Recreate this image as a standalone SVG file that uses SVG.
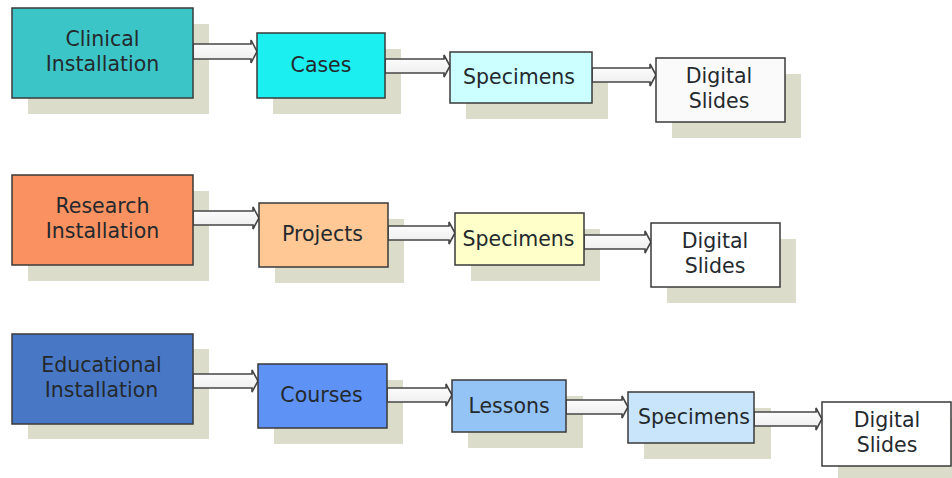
<svg xmlns="http://www.w3.org/2000/svg" width="952" height="478" viewBox="0 0 952 478">
  <defs>
    <linearGradient id="arrowFill" x1="0" y1="0" x2="0" y2="1">
      <stop offset="0" stop-color="#ffffff"/>
      <stop offset="1" stop-color="#ececec"/>
    </linearGradient>
  </defs>
  <style>
    .shadow { fill: #dcdccb; }
    .box { stroke: #3a3a3a; stroke-width: 1.5; }
    .label { font-family: "DejaVu Sans", "Liberation Sans", sans-serif; font-size: 20.5px; text-anchor: middle; fill: #24292e; }
    .arrow { fill: url(#arrowFill); stroke: #454545; stroke-width: 1.6; stroke-linejoin: miter; }
  </style>
  <rect width="952" height="478" fill="#ffffff"/>

  <!-- Shadows -->
  <g id="shadows">
    <rect class="shadow" x="28" y="24" width="181" height="90"/>
    <rect class="shadow" x="273" y="49" width="128" height="65"/>
    <rect class="shadow" x="466" y="68" width="142" height="51"/>
    <rect class="shadow" x="672" y="74" width="129" height="64"/>

    <rect class="shadow" x="28" y="191" width="181" height="90"/>
    <rect class="shadow" x="275" y="219" width="129" height="64"/>
    <rect class="shadow" x="471" y="229" width="129" height="52"/>
    <rect class="shadow" x="667" y="239" width="129" height="64"/>

    <rect class="shadow" x="28" y="349" width="181" height="90"/>
    <rect class="shadow" x="274" y="380" width="129" height="64"/>
    <rect class="shadow" x="468" y="396" width="115" height="52"/>
    <rect class="shadow" x="644" y="408" width="127" height="51"/>
    <rect class="shadow" x="838" y="418" width="129" height="64"/>
  </g>

  <!-- Connectors: hollow block arrows -->
  <g id="connectors">
    <path class="arrow" d="M193,44 H251 V40 L257,51.5 L251,63 V59 H193 Z"/>
    <path class="arrow" d="M385,59 H444 V55 L450,66 L444,77 V73 H385 Z"/>
    <path class="arrow" d="M592,68 H650 V64 L656,75 L650,86 V82 H592 Z"/>

    <path class="arrow" d="M193,211 H253 V207 L259,218 L253,229 V225 H193 Z"/>
    <path class="arrow" d="M388,226 H449 V222 L455,233 L449,244 V240 H388 Z"/>
    <path class="arrow" d="M584,235 H645 V231 L651,242 L645,253 V249 H584 Z"/>

    <path class="arrow" d="M193,374 H252 V370 L258,381 L252,392 V388 H193 Z"/>
    <path class="arrow" d="M387,388 H446 V384 L452,395 L446,406 V402 H387 Z"/>
    <path class="arrow" d="M566,400 H622 V396 L628,407 L622,418 V414 H566 Z"/>
    <path class="arrow" d="M754,412 H816 V408 L822,419 L816,430 V426 H754 Z"/>
  </g>

  <!-- Clinical row -->
  <g id="clinical-installation">
    <rect class="box" x="12" y="8" width="181" height="90" fill="#3cc5c7"/>
    <text class="label" x="102.5" y="46">Clinical</text>
    <text class="label" x="102.5" y="71">Installation</text>
  </g>
  <g id="cases">
    <rect class="box" x="257" y="33" width="128" height="65" fill="#1befef"/>
    <text class="label" x="321" y="72">Cases</text>
  </g>
  <g id="clinical-specimens">
    <rect class="box" x="450" y="52" width="142" height="51" fill="#ccffff"/>
    <text class="label" x="519" y="84">Specimens</text>
  </g>
  <g id="clinical-digital-slides">
    <rect class="box" x="656" y="58" width="129" height="64" fill="#fafafa"/>
    <text class="label" x="719" y="83">Digital</text>
    <text class="label" x="719" y="108">Slides</text>
  </g>

  <!-- Research row -->
  <g id="research-installation">
    <rect class="box" x="12" y="175" width="181" height="90" fill="#fa9161"/>
    <text class="label" x="102.5" y="213">Research</text>
    <text class="label" x="102.5" y="238">Installation</text>
  </g>
  <g id="projects">
    <rect class="box" x="259" y="203" width="129" height="64" fill="#ffc894"/>
    <text class="label" x="322.5" y="241">Projects</text>
  </g>
  <g id="research-specimens">
    <rect class="box" x="455" y="213" width="129" height="52" fill="#ffffc9"/>
    <text class="label" x="518.5" y="246">Specimens</text>
  </g>
  <g id="research-digital-slides">
    <rect class="box" x="651" y="223" width="129" height="64" fill="#ffffff"/>
    <text class="label" x="715" y="248">Digital</text>
    <text class="label" x="715" y="273">Slides</text>
  </g>

  <!-- Educational row -->
  <g id="educational-installation">
    <rect class="box" x="12" y="334" width="181" height="90" fill="#4878c5"/>
    <text class="label" x="101.5" y="372">Educational</text>
    <text class="label" x="101.5" y="397">Installation</text>
  </g>
  <g id="courses">
    <rect class="box" x="258" y="364" width="129" height="64" fill="#5e93f5"/>
    <text class="label" x="321.5" y="402">Courses</text>
  </g>
  <g id="lessons">
    <rect class="box" x="452" y="380" width="114" height="52" fill="#94c3f6"/>
    <text class="label" x="509" y="413">Lessons</text>
  </g>
  <g id="educational-specimens">
    <rect class="box" x="628" y="392" width="126" height="51" fill="#c9e5fb"/>
    <text class="label" x="694" y="424">Specimens</text>
  </g>
  <g id="educational-digital-slides">
    <rect class="box" x="822" y="402" width="129" height="64" fill="#ffffff"/>
    <text class="label" x="887" y="427">Digital</text>
    <text class="label" x="887" y="452">Slides</text>
  </g>
</svg>
